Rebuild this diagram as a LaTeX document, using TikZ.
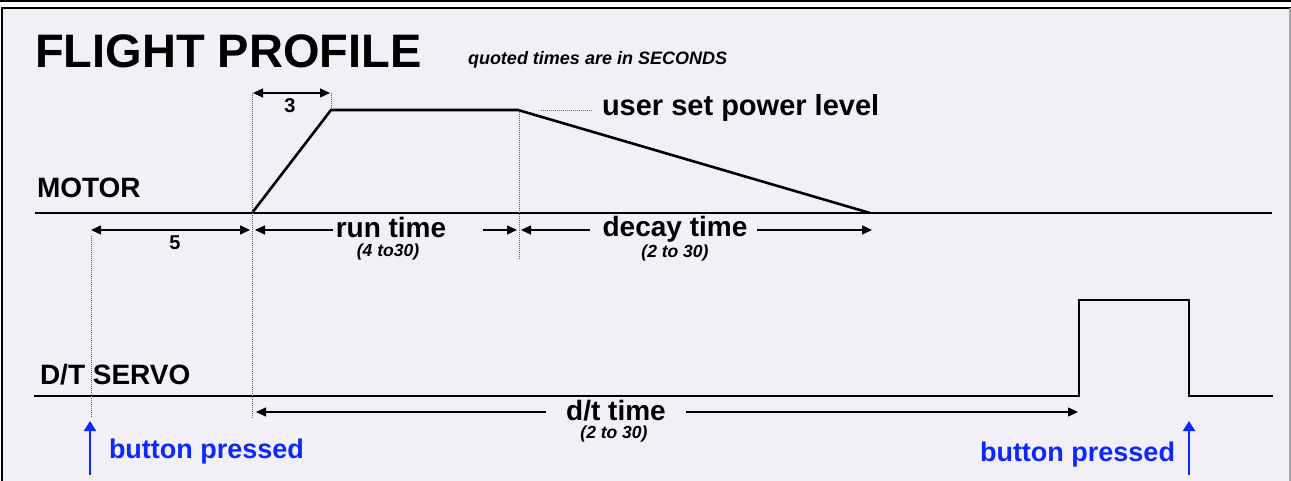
\documentclass[tikz,border=0pt]{standalone}
\usepackage{fontspec}
\setmainfont{Liberation Sans}
\usetikzlibrary{arrows.meta}
\definecolor{bg}{RGB}{243,239,246}
\definecolor{btn}{RGB}{10,40,255}
\definecolor{guidegray}{RGB}{100,100,100}
\begin{document}
\begin{tikzpicture}[x=1pt,y=-1pt,
  sig/.style={line width=2.6pt,line join=miter,line cap=butt},
  dim/.style={line width=1.4pt},
  tipr/.style={-{Triangle[length=10pt,width=9pt]}},
  tipb/.style={{Triangle[length=10pt,width=9pt]}-{Triangle[length=10pt,width=9pt]}},
  guide/.style={guidegray,line width=0.9pt,dash pattern=on 1pt off 1pt},
  btnarrow/.style={btn,line width=2pt,-{Triangle[length=10pt,width=12pt]}},
  txt/.style={inner sep=0pt,outer sep=0pt,anchor=base west},
  ctxt/.style={inner sep=0pt,outer sep=0pt,anchor=base},
  big/.style={font=\fontsize{28}{30}\selectfont\bfseries},
  small/.style={font=\fontsize{17.5}{19}\selectfont\bfseries\itshape},
  num/.style={font=\fontsize{20}{22}\selectfont\bfseries}
]
% frame and background
\useasboundingbox (0,0) rectangle (1291,481);
\fill[white] (0,0) rectangle (1291,481);
\fill[black] (0,0) rectangle (1291,2.5);
\fill[bg] (3,8) rectangle (1289,481);
\draw[black,line width=2pt] (2,481) -- (2,8) -- (1291,8);
\draw[gray!70,line width=2pt] (1290,8) -- (1290,481);

% title
\node[txt,font=\fontsize{47}{50}\selectfont\bfseries] (title) at (35,68) {FLIGHT PROFILE};
\node[txt,font=\fontsize{18}{20}\selectfont\bfseries\itshape] (quoted) at (468,65) {quoted times are in SECONDS};

% coordinates
\coordinate (mL) at (35,213);
\coordinate (mR) at (1272,213);
\coordinate (rampA) at (252,213);
\coordinate (rampB) at (331,110);
\coordinate (platE) at (518,110);
\coordinate (decE) at (870,213);
\coordinate (sL) at (34,396);
\coordinate (s1) at (1079,396);
\coordinate (s2) at (1079,300);
\coordinate (s3) at (1189,300);
\coordinate (s4) at (1189,396);
\coordinate (sR) at (1273,396);

% motor signal
\draw[sig] (mL) -- (mR);
\draw[sig] (rampA) -- (rampB) -- (platE) -- (decE);
% servo signal
\draw[sig] (sL) -- (s1) -- (s2) -- (s3) -- (s4) -- (sR);

% guides
\coordinate (g1t) at (252,93);  \coordinate (g1b) at (252,418);
\coordinate (g2t) at (331,93);  \coordinate (g2b) at (331,108);
\coordinate (g3t) at (519,112); \coordinate (g3b) at (519,260);
\coordinate (g4t) at (91,236);  \coordinate (g4b) at (91,418);
\coordinate (ldA) at (541,110); \coordinate (ldB) at (592,110);
\draw[guide] (g1t) -- (g1b);
\draw[guide] (g2t) -- (g2b);
\draw[guide] (g3t) -- (g3b);
\draw[guide] (g4t) -- (g4b);
\draw[guide] (ldA) -- (ldB);

% labels
\node[txt,font=\fontsize{29}{31}\selectfont\bfseries] (power) at (602,116) {user set power level};
\node[txt,big] (motor) at (37,198) {MOTOR};
\node[txt,big] (servo) at (40,384) {D/T SERVO};
\node[ctxt,num] (three) at (290,113) {3};
\node[ctxt,num] (five) at (175,250) {5};
\node[ctxt,big] (run) at (391,238) {run time};
\node[ctxt,small] (runr) at (388,257) {(4 to30)};
\node[ctxt,big] (decay) at (675,237) {decay time};
\node[ctxt,small] (decr) at (675,258) {(2 to 30)};
\node[ctxt,big] (dt) at (616,420) {d/t time};
\node[ctxt,small] (dtr) at (614,438) {(2 to 30)};
\node[txt,font=\fontsize{27}{29}\selectfont\bfseries,text=btn] (bp1) at (109,458) {button pressed};
\node[txt,font=\fontsize{27}{29}\selectfont\bfseries,text=btn] (bp2) at (980,461) {button pressed};

% dimension arrows
\coordinate (d3a) at (253,93);  \coordinate (d3b) at (330,93);
\coordinate (d5a) at (91,230);  \coordinate (d5b) at (250,230);
\coordinate (ra) at (255,230);  \coordinate (rb) at (333,230);
\coordinate (rc) at (483,230);  \coordinate (rd) at (517,230);
\coordinate (da) at (521,230);  \coordinate (db) at (590,230);
\coordinate (dc) at (757,230);  \coordinate (dd) at (872,230);
\coordinate (ta) at (256,412);  \coordinate (tb) at (546,412);
\coordinate (tc) at (686,412);  \coordinate (td) at (1078,412);
\draw[dim,tipb] (d3a) -- (d3b);
\draw[dim,tipb] (d5a) -- (d5b);
\draw[dim,tipr] (rb) -- (ra);
\draw[dim,tipr] (rc) -- (rd);
\draw[dim,tipr] (db) -- (da);
\draw[dim,tipr] (dc) -- (dd);
\draw[dim,tipr] (tb) -- (ta);
\draw[dim,tipr] (tc) -- (td);

% button arrows
\coordinate (b1a) at (90,475);  \coordinate (b1b) at (90,421);
\coordinate (b2a) at (1189,475); \coordinate (b2b) at (1189,421);
\draw[btnarrow] (b1a) -- (b1b);
\draw[btnarrow] (b2a) -- (b2b);
\end{tikzpicture}
\end{document}
